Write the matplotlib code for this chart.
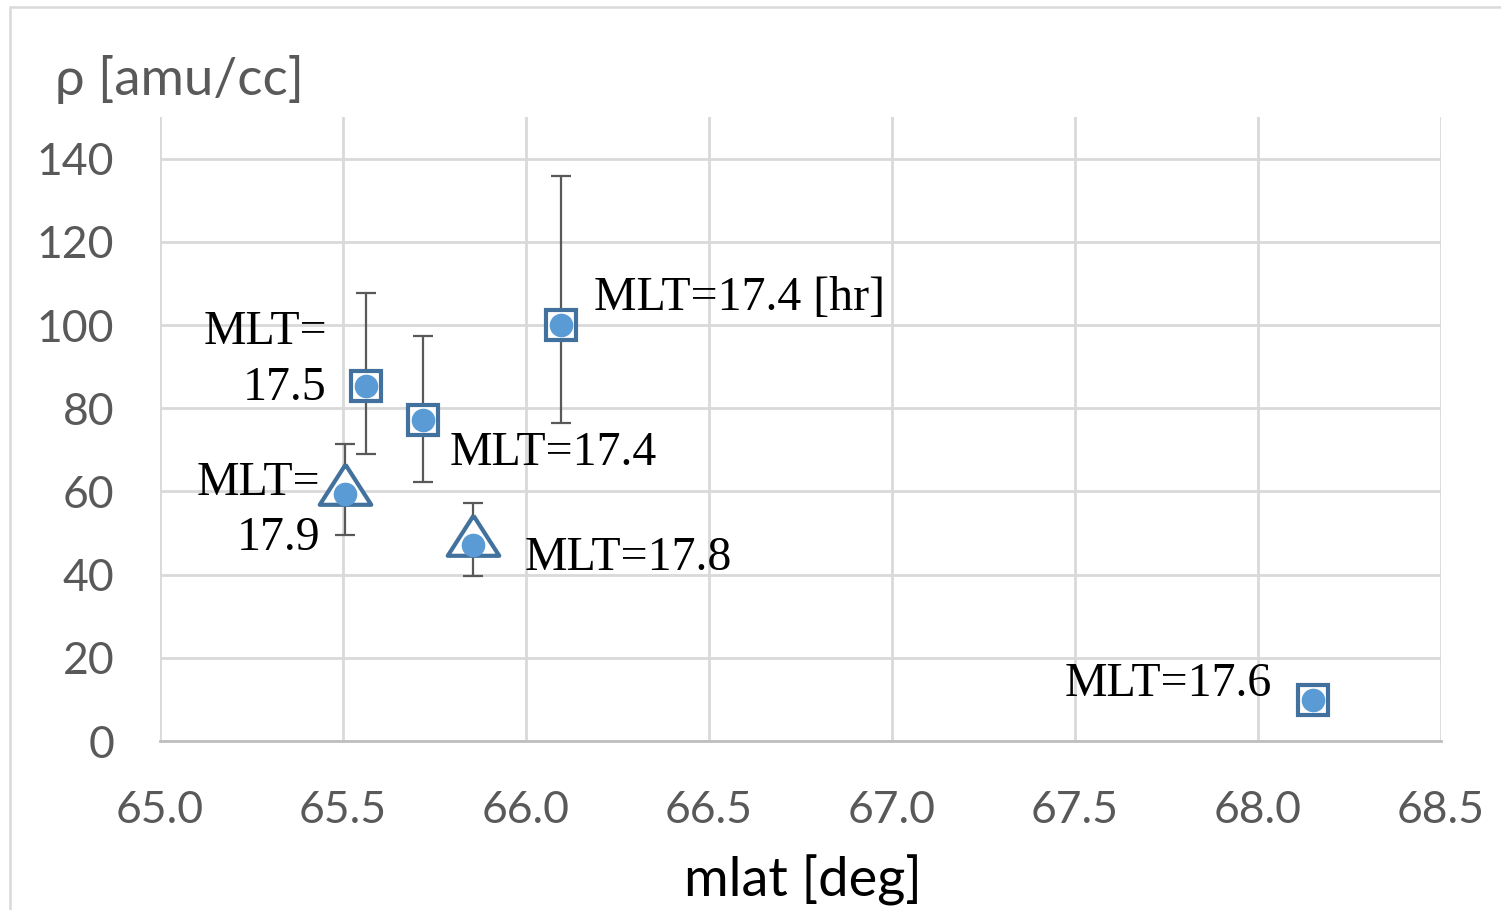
import numpy as np
import matplotlib
matplotlib.use("Agg")
import matplotlib.pyplot as plt
import matplotlib.patches as mpatches

# data
mlat = [65.505, 65.563, 65.719, 65.855, 66.096, 68.150]
rho = [59.3, 85.3, 77.1, 47.0, 99.9, 9.8]
rho_lo = [49.5, 68.9, 62.2, 39.6, 76.4, 9.0]
rho_hi = [71.3, 107.6, 97.3, 57.2, 135.9, 11.0]
shapes = ["tri", "sq", "sq", "tri", "sq", "sq"]

labels = ["MLT=17.4 [hr]", "MLT=\n17.5", "MLT=17.4", "MLT=\n17.9", "MLT=17.8", "MLT=17.6"]
label_x = [66.186, 65.456, 65.792, 65.437, 65.997, 68.038]
label_y = [106.4, 91.6, 69.2, 55.4, 44.0, 13.7]
label_ha = ["left", "right", "left", "right", "left", "right"]

x_ticks = [65.0, 65.5, 66.0, 66.5, 67.0, 67.5, 68.0, 68.5]
y_ticks = [0, 20, 40, 60, 80, 100, 120, 140]

grey = "#595959"
grid_c = "#D9D9D9"
dot_c = "#5B9BD5"
edge_c = "#41719C"
sans = "Lato"
serif = "Liberation Serif"

fig = plt.figure(figsize=(15.01, 9.10), dpi=100)
ax = fig.add_axes([160 / 1501, 1 - 741 / 910, (1441 - 160) / 1501, (741 - 117) / 910])

# outer chart border
fig.patches.append(mpatches.Rectangle((10 / 1501, -0.01), 1.0, 1 - 7 / 910 + 0.01,
                                      transform=fig.transFigure, fill=False,
                                      edgecolor=grid_c, linewidth=1.8))

# triangle offset upward like the Excel marker
tri = [(0, 29), (-25, -10), (25, -10), (0, 29)]

x = np.array(mlat)
y = np.array(rho)
yerr = np.array([y - np.array(rho_lo), np.array(rho_hi) - y])
ax.errorbar(x, y, yerr=yerr, fmt="none", ecolor=grey, elinewidth=1.6,
            capsize=7.5, capthick=1.6, zorder=3)

is_sq = np.array([s == "sq" for s in shapes])
ax.plot(x[is_sq], y[is_sq], ls="none", marker="s", markersize=22,
        markerfacecolor="white", markeredgecolor=edge_c, markeredgewidth=3, zorder=4)
ax.plot(x[~is_sq], y[~is_sq], ls="none", marker=tri, markersize=43,
        markerfacecolor="white", markeredgecolor=edge_c, markeredgewidth=3, zorder=4)
ax.plot(x, y, ls="none", marker="o", markersize=16, markerfacecolor=dot_c,
        markeredgecolor=dot_c, zorder=5)

for t, lx, ly, ha in zip(labels, label_x, label_y, label_ha):
    ax.text(lx, ly, t, ha=ha, va="center", fontsize=34.5, family=serif,
            color="black", linespacing=1.33, multialignment="right", zorder=6)

ax.set_xlim(65.0, 68.5)
ax.set_ylim(0, 150)
ax.set_xticks(x_ticks)
ax.set_xticklabels([f"{v:.1f}" for v in x_ticks])
ax.set_yticks(y_ticks)
ax.set_yticklabels([str(v) for v in y_ticks])
ax.tick_params(axis="both", length=0, labelsize=32, labelcolor=grey)
ax.tick_params(axis="y", pad=33)
ax.tick_params(axis="x", pad=35)
for lab in ax.get_xticklabels() + ax.get_yticklabels():
    lab.set_family(sans)

ax.grid(True, color=grid_c, linewidth=2)
ax.set_axisbelow(True)
for side in ["top", "right", "left"]:
    ax.spines[side].set_visible(False)
ax.spines["bottom"].set_color("#BFBFBF")
ax.spines["bottom"].set_linewidth(2)

fig.text(55 / 1501, 1 - 80 / 910, "ρ [amu/cc]", ha="left", va="center",
         fontsize=38, color=grey, family=sans)
fig.text(803 / 1501, 1 - 880 / 910, "mlat [deg]", ha="center", va="center",
         fontsize=39, color="black", family=sans)

fig.savefig("out.png", dpi=100, facecolor="white")
